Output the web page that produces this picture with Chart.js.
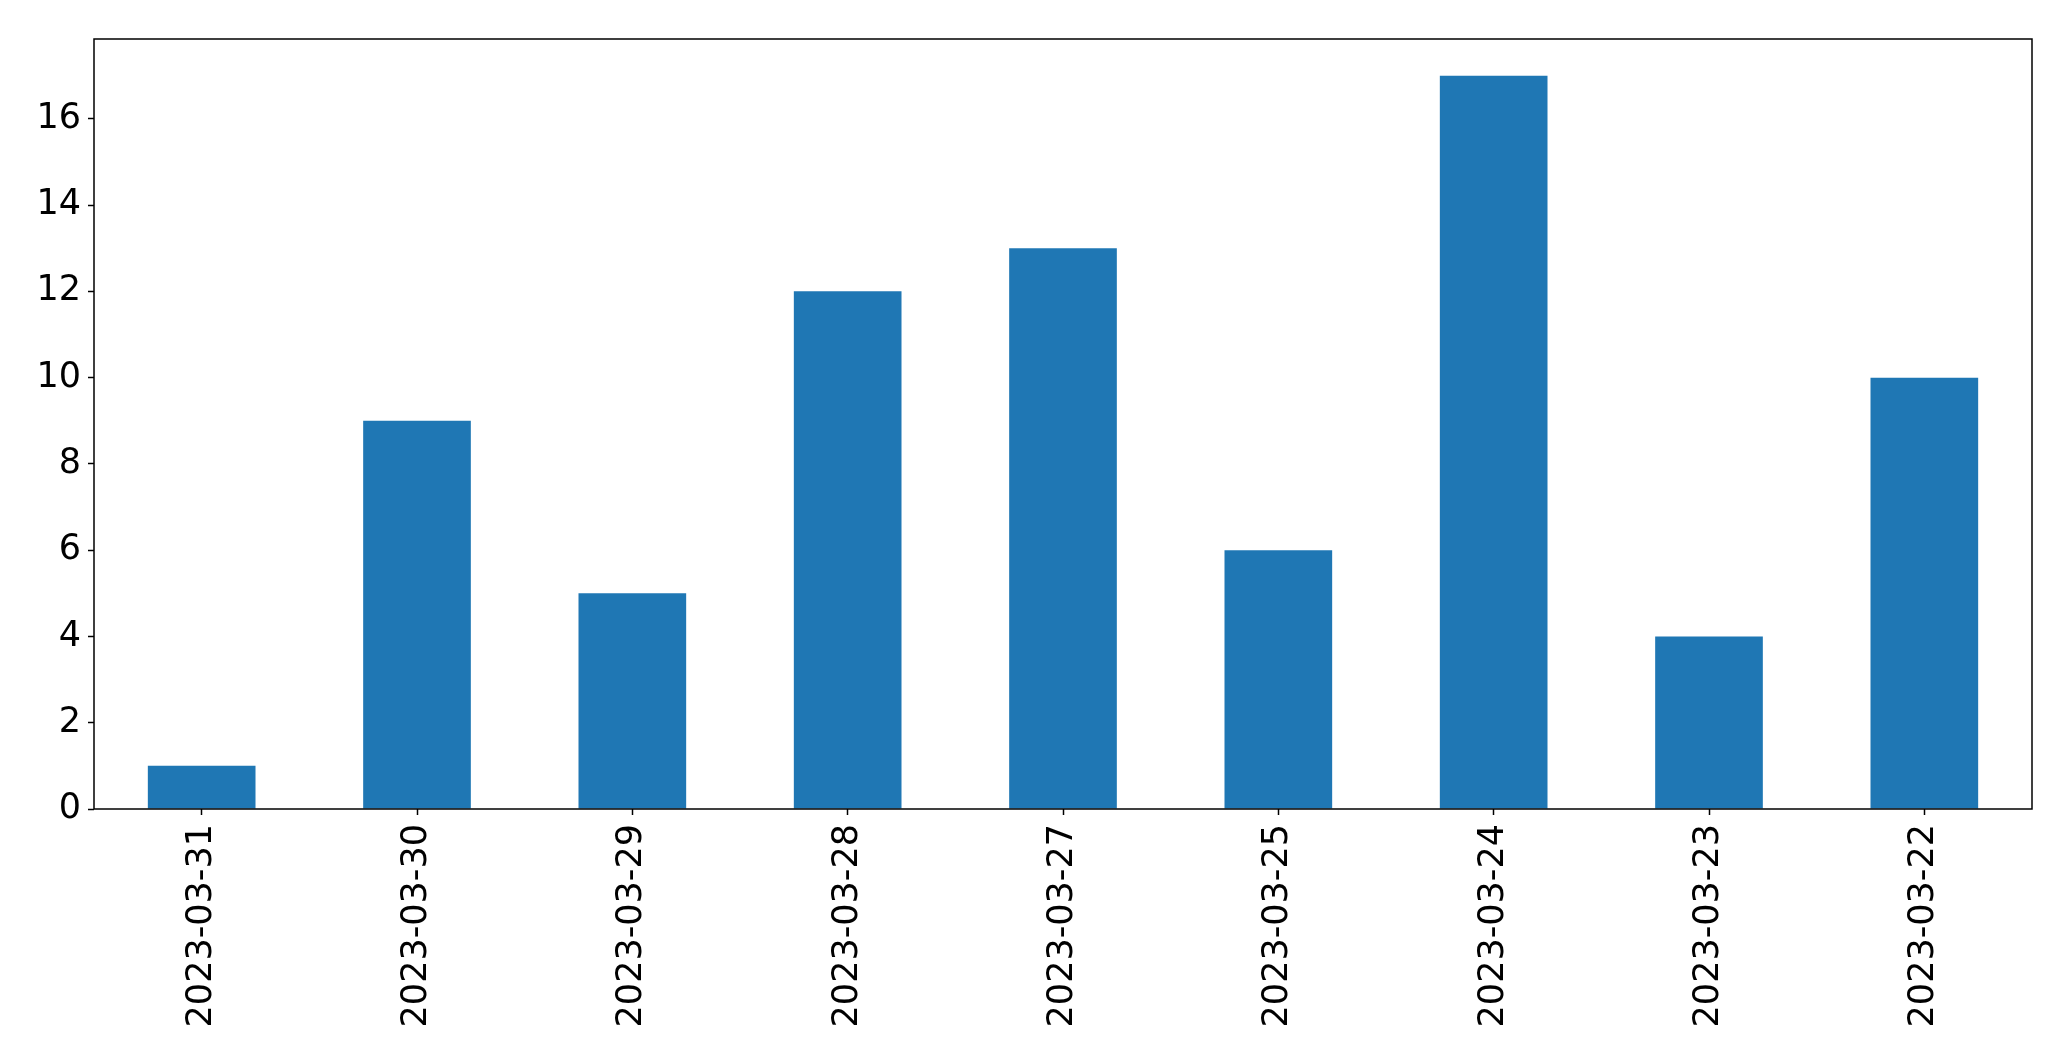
<!DOCTYPE html>
<html lang="en">
  <head>
    <meta charset="UTF-8" />
    <title>Daily counts</title>
    <style>
      html, body {
        margin: 0;
        padding: 0;
        background: #ffffff;
      }

      .chart-box {
        position: relative;
        width: 2071px;
        height: 1061px;
      }
    </style>
    <script src="https://cdn.jsdelivr.net/npm/chart.js"></script>
  </head>
  <body>
    <div class="chart-box">
      <canvas id="barChart"></canvas>
    </div>

    <script>
      const dates = [
        "2023-03-31",
        "2023-03-30",
        "2023-03-29",
        "2023-03-28",
        "2023-03-27",
        "2023-03-25",
        "2023-03-24",
        "2023-03-23",
        "2023-03-22",
      ];
      const counts = [1, 9, 5, 12, 13, 6, 17, 4, 10];
      const yTicks = [0, 2, 4, 6, 8, 10, 12, 14, 16];

      // matplotlib-like axes frame round the plot area
      const framePlugin = {
        id: "frame",
        afterDatasetsDraw(chart) {
          const { ctx, chartArea } = chart;
          ctx.save();
          ctx.strokeStyle = "#000000";
          ctx.lineWidth = 1.5;
          ctx.strokeRect(
            chartArea.left,
            chartArea.top,
            chartArea.right - chartArea.left,
            chartArea.bottom - chartArea.top
          );
          ctx.restore();
        },
      };

      const tickFont = { family: "DejaVu Sans", size: 35 };

      new Chart(document.getElementById("barChart").getContext("2d"), {
        type: "bar",
        data: {
          labels: dates,
          datasets: [
            {
              data: counts,
              backgroundColor: "#1f77b4",
              barPercentage: 0.5,
              categoryPercentage: 1.0,
            },
          ],
        },
        options: {
          responsive: true,
          maintainAspectRatio: false,
          animation: false,
          layout: {
            padding: { top: 39, right: 39, left: 0, bottom: 0 },
          },
          plugins: {
            legend: { display: false },
            tooltip: { enabled: false },
          },
          scales: {
            x: {
              grid: {
                display: true,
                drawOnChartArea: false,
                offset: false,
                tickLength: 6,
                tickColor: "#000000",
                tickWidth: 1.5,
              },
              border: { display: false },
              ticks: {
                color: "#000000",
                font: tickFont,
                minRotation: 90,
                maxRotation: 90,
                autoSkip: false,
                padding: 9,
              },
              afterFit(scale) {
                scale.height = 252;
              },
            },
            y: {
              min: 0,
              max: 17.85,
              grid: {
                display: true,
                drawOnChartArea: false,
                tickLength: 6,
                tickColor: "#000000",
                tickWidth: 1.5,
              },
              border: { display: false },
              ticks: {
                color: "#000000",
                font: tickFont,
                padding: 7,
              },
              afterBuildTicks(scale) {
                scale.ticks = yTicks.map((v) => ({ value: v }));
              },
              afterFit(scale) {
                scale.width = 94;
              },
            },
          },
        },
        plugins: [framePlugin],
      });
    </script>
  </body>
</html>
